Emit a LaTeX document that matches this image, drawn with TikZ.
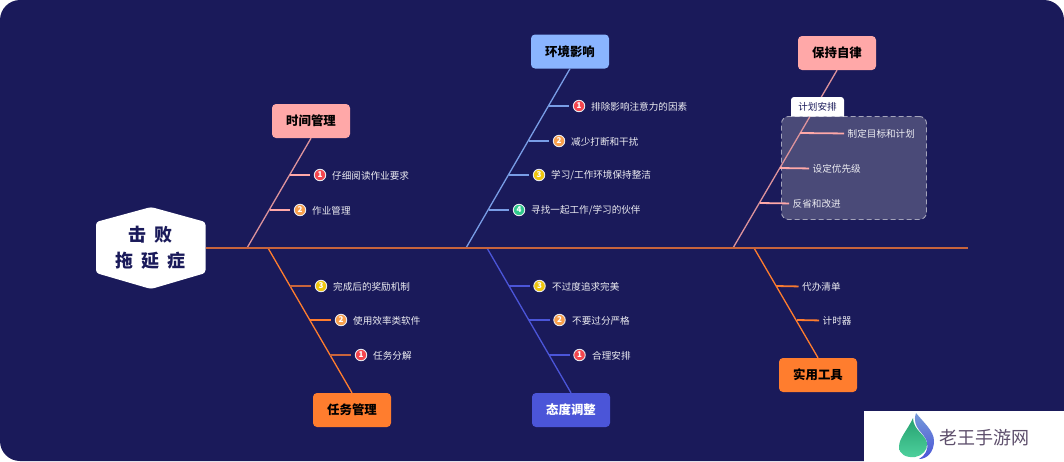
\documentclass[tikz,border=0pt]{standalone}
\usepackage{fontspec}
\usepackage{xcolor}
\setmainfont{Noto Sans CJK SC}
\newfontfamily\headfont[WordSpace=1.9]{Noto Sans CJK SC}
\definecolor{FBNavy}{HTML}{1A1A5A}
\definecolor{FBSpine}{HTML}{C8643C}
\definecolor{FBPink}{HTML}{FFA8A8}
\definecolor{FBBlue}{HTML}{8AB4FF}
\definecolor{FBOrange}{HTML}{FF7D2E}
\definecolor{FBIndigo}{HTML}{4B55D8}
\definecolor{FBGroup}{HTML}{4A4A78}
\definecolor{FBMark}{HTML}{5E4F6C}
\definecolor{FBRed}{HTML}{F4464E}
\definecolor{FBAmber}{HTML}{F9A04C}
\definecolor{FBYellow}{HTML}{EFC60E}
\definecolor{FBGreen}{HTML}{2FC98C}
\tikzset{
  causebox/.style={rounded corners=4pt,minimum width=78pt,minimum height=34pt,inner sep=0pt,
    font=\fontsize{12.4}{14}\selectfont\bfseries,text=black},
  itemtext/.style={anchor=west,inner sep=0pt,text=white!92!FBNavy,font=\fontsize{9.6}{12}\selectfont},
  itemdot/.style={circle,draw=white!90!FBNavy,line width=.9pt,minimum size=11.5pt,inner sep=0pt,text=white,
    font=\fontsize{8}{8}\selectfont\bfseries},
  bone/.style={line width=1.3pt},
  twig/.style={line width=1.8pt,shorten >=3.5pt},
}
\begin{document}
\begin{tikzpicture}[x=1pt,y=-1pt]
\useasboundingbox (0,0) rectangle (1064,461);
\fill[FBNavy,rounded corners=20pt] (0,0) rectangle (1064,461);
% head
\fill[white,rounded corners=3pt] (151,207) -- (205.5,222) -- (205.5,273) -- (151,289) -- (96,273) -- (96,222) -- cycle;
\node[minimum width=109.5pt,minimum height=50pt,inner sep=0pt,align=center,text=FBNavy,
  font=\headfont\fontsize{18}{26}\selectfont\bfseries] (head) at (150.7,248) {击 败\\拖 延 症};
\coordinate (spineend) at (968,248);
% group behind the bones
\node[draw=white!50!FBGroup,dash pattern=on 5pt off 3pt,line width=.9pt,fill=FBGroup,rounded corners=7pt,minimum width=145pt,minimum height=103pt] (groupbox) at (854,168) {};
% cause boxes
\node[causebox,fill=FBPink] (timebox) at (311,121) {时间管理};
\node[causebox,fill=FBBlue] (envbox) at (570,51.5) {环境影响};
\node[causebox,fill=FBPink] (selfbox) at (837,53) {保持自律};
\node[causebox,fill=FBOrange] (taskbox) at (352,410) {任务管理};
\node[causebox,fill=FBIndigo,text=white] (mindbox) at (571,410) {态度调整};
\node[causebox,fill=FBOrange] (toolbox) at (818,375) {实用工具};
\coordinate (timefoot) at (247,248);
\coordinate (envfoot) at (466,248);
\coordinate (selffoot) at (733,248);
\coordinate (taskfoot) at (268,248);
\coordinate (mindfoot) at (487,248);
\coordinate (toolfoot) at (754,248);
\draw[bone,FBPink!85!FBNavy] (timebox.south) -- (timefoot);
\draw[bone,FBBlue!85!FBNavy] (envbox.south) -- (envfoot);
\draw[bone,FBPink!85!FBNavy] (selfbox.south) -- (selffoot);
\draw[bone,FBOrange] (taskfoot) -- (taskbox.north);
\draw[bone,FBIndigo] (mindfoot) -- (mindbox.north);
\draw[bone,FBOrange] (toolfoot) -- (toolbox.north);
\draw[FBSpine,line width=2pt] (head.east) -- (spineend);
% tab over the bone
\fill[white] (791,116.5) [rounded corners=3pt] -- (791,97) -- (844,97) [sharp corners] -- (844,116.5) -- cycle;
\node[inner sep=0pt,text=FBNavy,font=\fontsize{9.6}{12}\selectfont] (grouptab) at (817.5,106.5) {计划安排};
% time
\coordinate (time1) at (289.5,175);
\node[itemdot,fill=FBRed] (timedot1) at (320,175) {1};
\node[itemtext] (timetext1) at (332,175.5) {仔细阅读作业要求};
\draw[twig,FBPink] (time1) -- (timedot1);
\coordinate (time2) at (269.5,210);
\node[itemdot,fill=FBAmber] (timedot2) at (300,210) {2};
\node[itemtext] (timetext2) at (312,210.5) {作业管理};
\draw[twig,FBPink] (time2) -- (timedot2);
% environment
\coordinate (env1) at (549,106);
\node[itemdot,fill=FBRed] (envdot1) at (579,106) {1};
\node[itemtext] (envtext1) at (591,106.5) {排除影响注意力的因素};
\draw[twig,FBBlue!85!FBNavy] (env1) -- (envdot1);
\coordinate (env2) at (529,141);
\node[itemdot,fill=FBAmber] (envdot2) at (559,141) {2};
\node[itemtext] (envtext2) at (571,141.5) {减少打断和干扰};
\draw[twig,FBBlue!85!FBNavy] (env2) -- (envdot2);
\coordinate (env3) at (509,175);
\node[itemdot,fill=FBYellow] (envdot3) at (539,175) {3};
\node[itemtext] (envtext3) at (551,175.5) {学习/工作环境保持整洁};
\draw[twig,FBBlue!85!FBNavy] (env3) -- (envdot3);
\coordinate (env4) at (489,210);
\node[itemdot,fill=FBGreen] (envdot4) at (519,210) {4};
\node[itemtext] (envtext4) at (531,210.5) {寻找一起工作/学习的伙伴};
\draw[twig,FBBlue!85!FBNavy] (env4) -- (envdot4);
% self discipline
\coordinate (self1) at (800,133);
\node[itemtext] (selftext1) at (847.5,133.5) {制定目标和计划};
\draw[twig,FBPink] (self1) -- (selftext1.west);
\coordinate (self2) at (780,168);
\node[itemtext] (selftext2) at (812.5,168.5) {设定优先级};
\draw[twig,FBPink] (self2) -- (selftext2.west);
\coordinate (self3) at (760,203);
\node[itemtext] (selftext3) at (792.5,203.5) {反省和改进};
\draw[twig,FBPink] (self3) -- (selftext3.west);
% tasks
\coordinate (task3) at (290,286);
\node[itemdot,fill=FBYellow] (taskdot3) at (321,286) {3};
\node[itemtext] (tasktext3) at (333,286.5) {完成后的奖励机制};
\draw[twig,FBSpine] (task3) -- (taskdot3);
\coordinate (task2) at (310,320);
\node[itemdot,fill=FBAmber] (taskdot2) at (341,320) {2};
\node[itemtext] (tasktext2) at (353,320.5) {使用效率类软件};
\draw[twig,FBOrange] (task2) -- (taskdot2);
\coordinate (task1) at (330,355);
\node[itemdot,fill=FBRed] (taskdot1) at (361,355) {1};
\node[itemtext] (tasktext1) at (373,355.5) {任务分解};
\draw[twig,FBSpine] (task1) -- (taskdot1);
% attitude
\coordinate (mind3) at (509,286);
\node[itemdot,fill=FBYellow] (minddot3) at (539.5,286) {3};
\node[itemtext] (mindtext3) at (552,286.5) {不过度追求完美};
\draw[twig,FBIndigo] (mind3) -- (minddot3);
\coordinate (mind2) at (529,320);
\node[itemdot,fill=FBAmber] (minddot2) at (559.5,320) {2};
\node[itemtext] (mindtext2) at (572,320.5) {不要过分严格};
\draw[twig,FBIndigo] (mind2) -- (minddot2);
\coordinate (mind1) at (549,355);
\node[itemdot,fill=FBRed] (minddot1) at (579.5,355) {1};
\node[itemtext] (mindtext1) at (592,355.5) {合理安排};
\draw[twig,FBIndigo] (mind1) -- (minddot1);
% tools
\coordinate (tool1) at (776,286);
\node[itemtext] (tooltext1) at (802,286.5) {代办清单};
\draw[twig,FBOrange!85!FBSpine] (tool1) -- (tooltext1.west);
\coordinate (tool2) at (797,320);
\node[itemtext] (tooltext2) at (822.5,320.5) {计时器};
\draw[twig,FBOrange] (tool2) -- (tooltext2.west);
% mark
\fill[white] (864,411) rectangle (1065,462);
\shade[top color=FBGreen!80!black,bottom color=FBGreen!85!white] (913,418) .. controls (907,431) and (899,438) .. (899,447) .. controls (899,454) and (906,458) .. (915,457) .. controls (922,456) and (928,450) .. (927,443) .. controls (926,435) and (913,430) .. cycle;
\shade[top color=FBBlue!85!black,bottom color=FBIndigo] (916,413) .. controls (924,423) and (934,431) .. (934,441) .. controls (934,452) and (927,459) .. (919,459) .. controls (925,456) and (929,449) .. (927,442) .. controls (925,433) and (911,428) .. cycle;
\node[anchor=west,inner sep=0pt,text=FBMark,font=\fontsize{18}{20}\selectfont] (marktext) at (939,437.5) {老王手游网};
\end{tikzpicture}
\end{document}
